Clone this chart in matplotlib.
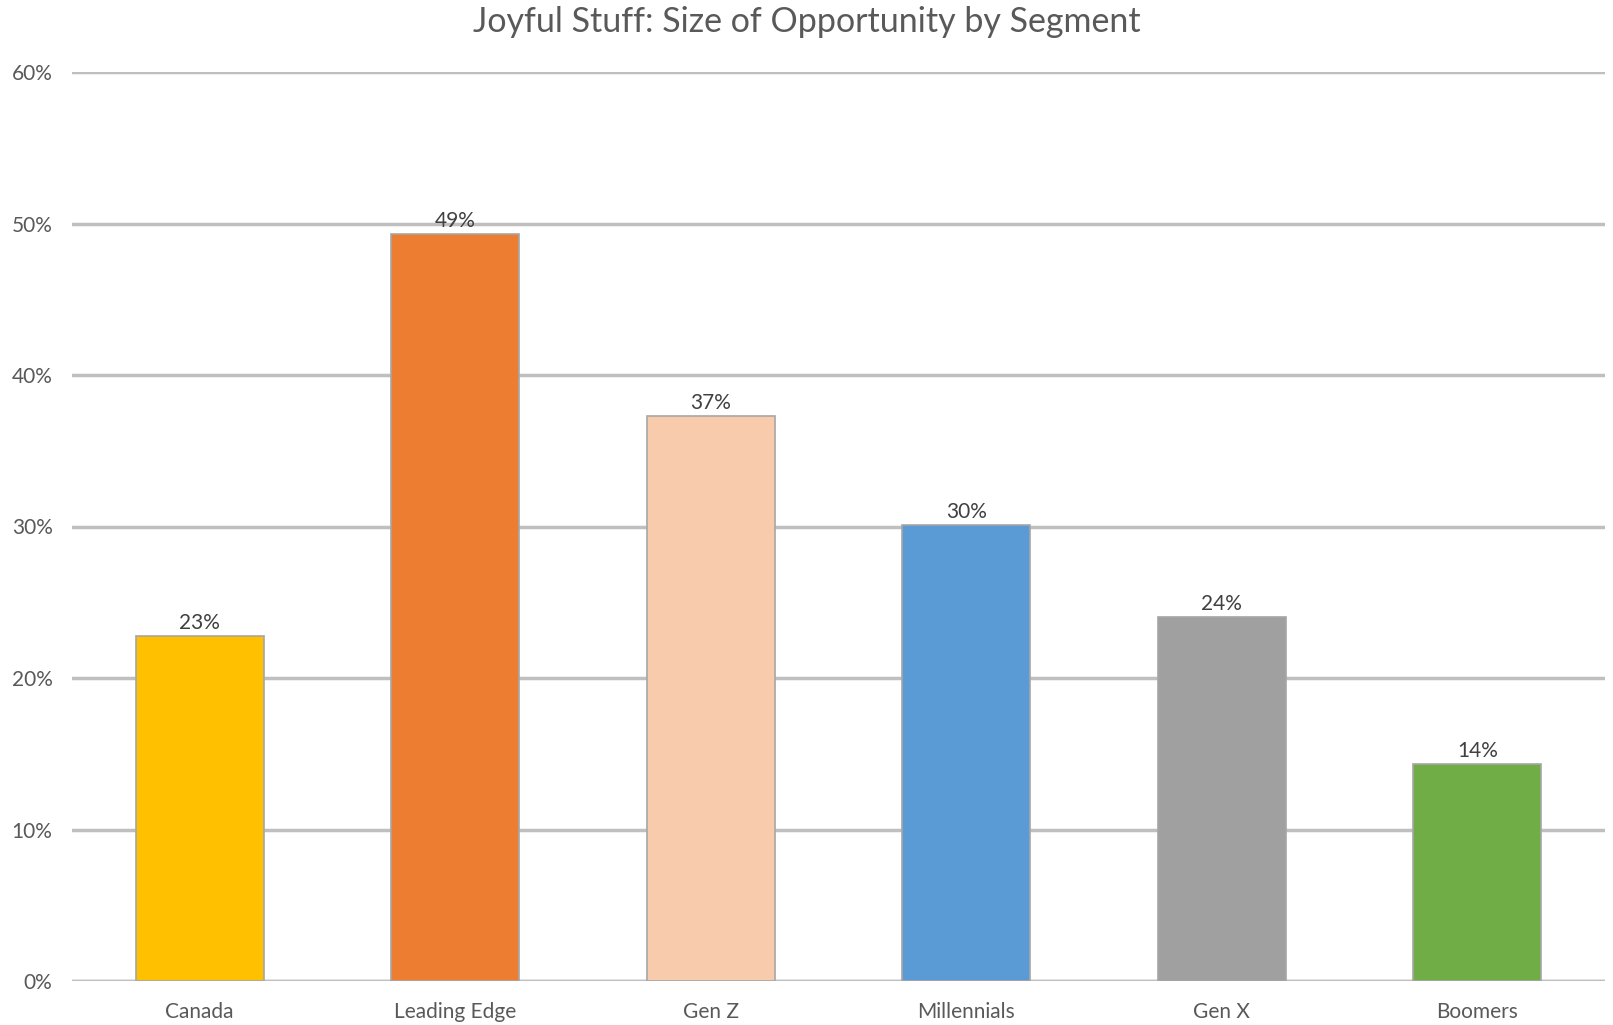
import matplotlib
matplotlib.use("Agg")
import matplotlib.pyplot as plt
from matplotlib.ticker import PercentFormatter

segments = ["Canada", "Leading Edge", "Gen Z", "Millennials", "Gen X", "Boomers"]
opportunity = [0.228, 0.493, 0.373, 0.301, 0.240, 0.143]
colors = ["#FFC000", "#ED7D31", "#F8CBAD", "#5B9BD5", "#A0A0A0", "#70AD47"]
yticks = [0.0, 0.1, 0.2, 0.3, 0.4, 0.5, 0.6]

plt.rcParams["font.family"] = ["Lato", "DejaVu Sans"]

fig = plt.figure(figsize=(16.13, 10.25), dpi=100)
ax = fig.add_axes([72 / 1613, 1 - 981 / 1025, (1605 - 72) / 1613, (981 - 72) / 1025])

x = range(len(segments))
bars = ax.bar(x, opportunity, width=0.5, color=colors, edgecolor="#A6A6A6",
              linewidth=1.2, zorder=3)

for b, v in zip(bars, opportunity):
    ax.text(b.get_x() + b.get_width() / 2, v + 0.002, f"{v:.0%}",
            ha="center", va="bottom", fontsize=15, color="#404040", zorder=4)

ax.set_xlim(-0.5, len(segments) - 0.5)
ax.set_ylim(0, 0.6)
ax.set_yticks(yticks)
ax.yaxis.set_major_formatter(PercentFormatter(1.0, decimals=0))
ax.set_xticks(list(x))
ax.set_xticklabels(segments)
ax.tick_params(axis="both", length=0, labelsize=15, labelcolor="#595959")
ax.tick_params(axis="y", pad=14)
ax.tick_params(axis="x", pad=15)

ax.grid(axis="y", color="#BFBFBF", linewidth=2.5, zorder=0)
for s in ax.spines.values():
    s.set_visible(False)
ax.axhline(0, color="#BFBFBF", linewidth=2.5, zorder=2)

fig.text(0.5, 1 - 22 / 1025, "Joyful Stuff: Size of Opportunity by Segment",
         ha="center", va="center", fontsize=24.5, color="#595959")

fig.savefig("out.png", dpi=100)
